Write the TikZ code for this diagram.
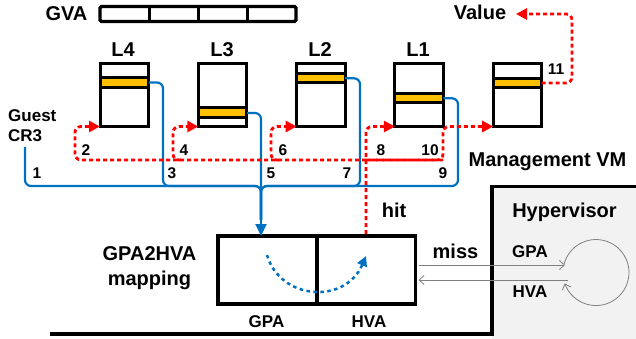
\documentclass[tikz,border=0pt]{standalone}
\usepackage{fontspec}
\setmainfont{Liberation Sans}
\usetikzlibrary{arrows.meta,calc}
\definecolor{bblue}{HTML}{0070C0}
\definecolor{rred}{HTML}{FF0000}
\definecolor{yel}{HTML}{FFC000}
\definecolor{hvgray}{HTML}{F2F2F2}
\begin{document}
\begin{tikzpicture}[x=1pt,y=-1pt,
 lbl/.style={font=\fontsize{20}{22}\selectfont\bfseries, inner sep=0, anchor=base},
 num/.style={font=\fontsize{15.5}{17}\selectfont\bfseries, inner sep=0, anchor=base},
 sml/.style={font=\fontsize{17}{19}\selectfont\bfseries, inner sep=0, anchor=base},
 lvl/.style={draw, line width=3pt, minimum width=48.5pt, minimum height=63pt, inner sep=0, outer sep=0},
 band/.style={draw, line width=3pt, fill=yel},
 bl/.style={draw=bblue, line width=2.2pt, rounded corners=6pt},
 rd/.style={draw=rred, line width=2.8pt, dash pattern=on 4pt off 3pt, rounded corners=6pt},
 rtip/.style={-{Triangle[length=11pt,width=11pt]}},
 gl/.style={draw=black!50, line width=0.8pt, -{Straight Barb[length=5pt,width=9pt]}},
 mapbox/.style={draw, line width=3.5pt, minimum width=99pt, minimum height=68pt, inner sep=0, outer sep=0},
]
\useasboundingbox (0,0) rectangle (636,339);

% Hypervisor region
\fill[hvgray] (492,186.5) rectangle (636,339);
\draw[line width=3.5pt] (636,186.5) -- (492,186.5) -- (492,334) -- (50,334);
\node[lbl] (hv) at (564.5,217) {Hypervisor};

% GVA bar
\node[lbl] (gva) at (66.5,21) {GVA};
\draw[line width=3.2pt, rounded corners=1.5pt] (100,6.5) rectangle (296,21.5);
\foreach \x in {149,198,247} \draw[line width=3pt] (\x,6.5) -- (\x,21.5);

% level boxes
\node[lvl] (l4) at (124.25,95) {};
\node[lvl] (l3) at (222.55,95) {};
\node[lvl] (l2) at (320.85,95) {};
\node[lvl] (l1) at (419.15,95) {};
\node[lvl] (mvm) at (517.45,95) {};
\draw[band] (100,77.5) rectangle (148.5,87.5);
\draw[band] (198.3,108) rectangle (246.8,118);
\draw[band] (296.6,73.5) rectangle (345.1,83);
\draw[band] (394.9,93.5) rectangle (443.4,103);
\draw[band] (493.2,78.5) rectangle (541.7,87.5);

\node[lbl] (t4) at (123,57) {L4};
\node[lbl] (t3) at (222,57) {L3};
\node[lbl] (t2) at (320,57) {L2};
\node[lbl] (t1) at (418,57) {L1};

\node[sml, anchor=base west] (guest) at (8,122) {Guest};
\node[sml, anchor=base west] (cr3) at (8,142) {CR3};
\node[lbl] (value) at (480,20) {Value};
\node[lbl] (mvmlbl) at (547.5,167) {Management VM};

% mapping boxes
\node[mapbox] (gpa) at (267.5,270) {};
\node[mapbox] (hva) at (366,270) {};
\node[lbl] (map1) at (149.5,260) {GPA2HVA};
\node[lbl] (map2) at (149.5,285) {mapping};
\node[sml] (gpalbl) at (266.5,327) {GPA};
\node[sml] (hvalbl) at (369,327) {HVA};
\node[lbl] (hit) at (394,217) {hit};
\node[lbl] (miss) at (455.5,258) {miss};
\node[sml] (gparight) at (530,257) {GPA};
\node[sml] (hvaright) at (530,297) {HVA};

% coordinates
\coordinate (b4) at (148.5,82.5);
\coordinate (b3) at (246.8,113);
\coordinate (b2) at (345.1,78.3);
\coordinate (b1) at (443.4,98.3);
\coordinate (bm) at (541.7,83);
\coordinate (crs) at (25,147);
\coordinate (j) at (261,186);
\coordinate (vt) at (516,14);

% blue paths
\draw[bl] (crs) -- (25,186) -- (j) -- (261,220);
\draw[bl] (b4) -- (163,82.5) -- (163,186) -- (j) -- (261,220);
\draw[bl] (b3) -- (261,113) -- (261,220);
\draw[bl] (b2) -- (360,78.3) -- (360,186) -- (j) -- (261,220);
\draw[bl] (b1) -- (458,98.3) -- (458,186) -- (j) -- (261,220);
\draw[draw=bblue, line width=2.2pt, -{Triangle[length=12pt,width=11pt]}] (261,205) -- (j |- gpa.north);

% red paths
\draw[rd, rtip] (443,160) -- (75,160) -- (75,126.5) -- (l4.south west);
\draw[rd, rtip] (181,160) -- (173,160) -- (173,126.5) -- (l3.south west);
\draw[rd, rtip] (279,160) -- (271,160) -- (271,126.5) -- (l2.south west);
\draw[rd, rtip] (366,234) -- (366,126.5) -- (l1.south west);
\draw[rd, rtip] (366,160) -- (443,160) -- (443,126.5) -- (mvm.south west);
\draw[rd, rtip] (bm) -- (572,83) -- (572,14) -- (vt);

% numbers
\node[num] (n1) at (37,178) {1};
\node[num] (n2) at (86,155) {2};
\node[num] (n3) at (172,178) {3};
\node[num] (n4) at (184,155) {4};
\node[num] (n5) at (271,178) {5};
\node[num] (n6) at (283,155) {6};
\node[num] (n7) at (347,178) {7};
\node[num] (n8) at (381,155) {8};
\node[num] (n9) at (443,178) {9};
\node[num] (n10) at (430,155) {10};
\node[num] (n11) at (556,75) {11};

% blue dotted arc inside mapping
\draw[bblue, line width=2.5pt, dash pattern=on 3.5pt off 3.5pt, -{Triangle[length=10pt,width=10pt]}] (267,255) .. controls (280,300) and (345,305) .. (366,256);

% miss / loop
\coordinate (c1) at (565,265);
\coordinate (c2) at (568,280);
\draw[gl] (hva.east |- c1) ++(3,0) -- (c1);
\draw[gl] (c2) -- ($(hva.east |- c2)+(3,0)$);
\draw[gl] (564.1,264) arc[start angle=165, end angle=-161, radius=33pt];
\end{tikzpicture}
\end{document}
